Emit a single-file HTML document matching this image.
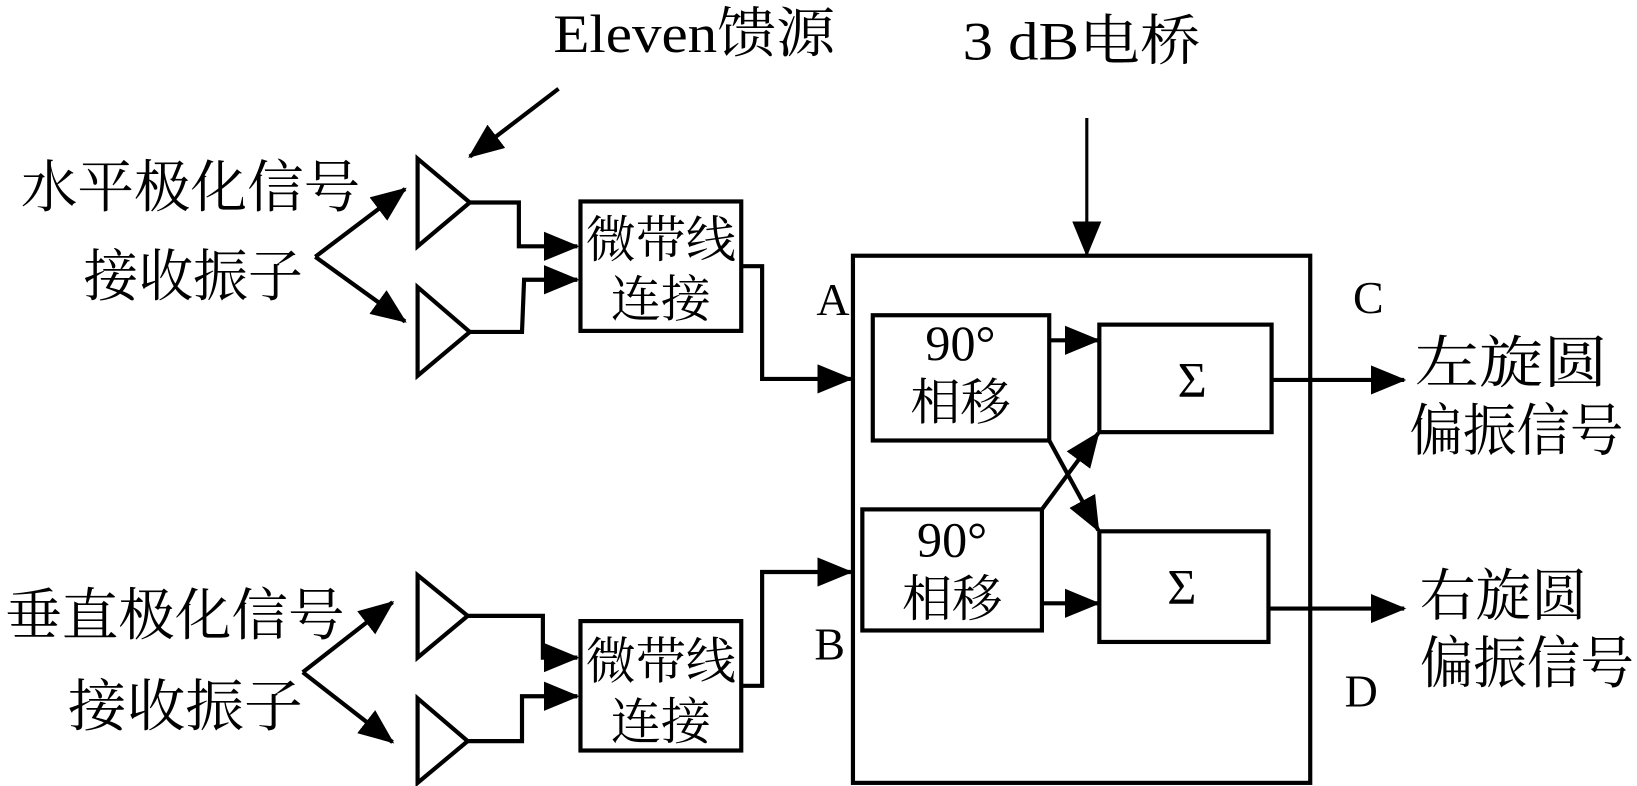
<!DOCTYPE html>
<html><head><meta charset="utf-8"><style>
html,body{margin:0;padding:0;background:#fff;}
svg{display:block;}
text{font-family:"Liberation Serif","Noto Serif CJK SC",serif;fill:#000;}
</style></head><body>
<svg width="1637" height="786" viewBox="0 0 1568 753" preserveAspectRatio="none" xmlns="http://www.w3.org/2000/svg">
<defs>
<marker id="a" markerUnits="userSpaceOnUse" markerWidth="34" markerHeight="28" refX="32" refY="14" orient="auto">
<path d="M0,0 L34,14 L0,28 Z" fill="#000"/>
</marker>
</defs>
<g fill="none" stroke="#000" stroke-width="4">
<line x1="535" y1="85" x2="450" y2="150" marker-end="url(#a)"/>
<line x1="1041" y1="113" x2="1041" y2="244" stroke-width="3" marker-end="url(#a)"/>
<line x1="302" y1="246" x2="388" y2="181" marker-end="url(#a)"/>
<line x1="302" y1="246" x2="388" y2="308" marker-end="url(#a)"/>
<polygon points="400,152 450,194 400,236"/>
<polygon points="400,275 450,318 400,360"/>
<polyline points="450,194 497,194 497,236 553,236" marker-end="url(#a)"/>
<polyline points="450,318 500,318 502,268 553,268" marker-end="url(#a)"/>
<rect x="556" y="193" width="154" height="124"/>
<polyline points="710,255 730,255 730,363 815,363" marker-end="url(#a)"/>
<line x1="290" y1="644" x2="376" y2="577" marker-end="url(#a)"/>
<line x1="290" y1="644" x2="376" y2="711" marker-end="url(#a)"/>
<polygon points="400,551 448,590 400,630"/>
<polygon points="400,669 448,710 400,750"/>
<polyline points="448,590 520,590 520,630 553,630" marker-end="url(#a)"/>
<polyline points="448,710 500,710 500,667 553,667" marker-end="url(#a)"/>
<rect x="556" y="595" width="154" height="124"/>
<polyline points="710,657 730,657 730,548 815,548" marker-end="url(#a)"/>
<rect x="817" y="245" width="438" height="505"/>
<rect x="836" y="302" width="169" height="120"/>
<rect x="826" y="488" width="172" height="116"/>
<rect x="1053" y="311" width="165" height="103"/>
<rect x="1053" y="509" width="162" height="106"/>
<line x1="1005" y1="326" x2="1052" y2="326" marker-end="url(#a)"/>
<line x1="998" y1="578" x2="1052" y2="578" marker-end="url(#a)"/>
<line x1="1005" y1="422" x2="1052" y2="508" marker-end="url(#a)"/>
<line x1="998" y1="488" x2="1052" y2="415" marker-end="url(#a)"/>
<line x1="1218" y1="364" x2="1345" y2="364" marker-end="url(#a)"/>
<line x1="1215" y1="583" x2="1345" y2="583" marker-end="url(#a)"/>
</g>
<g font-size="52">
<text x="530" y="50" textLength="270" lengthAdjust="spacingAndGlyphs">Eleven馈源</text>
<text x="922" y="57" textLength="228" lengthAdjust="spacingAndGlyphs">3 dB电桥</text>
</g>
<g font-size="54" lengthAdjust="spacingAndGlyphs">
<text x="20" y="198" textLength="325" lengthAdjust="spacingAndGlyphs">水平极化信号</text>
<text x="80" y="283" textLength="210" lengthAdjust="spacingAndGlyphs">接收振子</text>
<text x="5" y="608" textLength="325" lengthAdjust="spacingAndGlyphs">垂直极化信号</text>
<text x="65" y="695" textLength="225" lengthAdjust="spacingAndGlyphs">接收振子</text>
<text x="1355" y="366" textLength="185" lengthAdjust="spacingAndGlyphs">左旋圆</text>
<text x="1350" y="431" textLength="205" lengthAdjust="spacingAndGlyphs">偏振信号</text>
<text x="1360" y="589" textLength="160" lengthAdjust="spacingAndGlyphs">右旋圆</text>
<text x="1360" y="654" textLength="205" lengthAdjust="spacingAndGlyphs">偏振信号</text>
</g>
<g font-size="48" text-anchor="middle">
<text x="633" y="246">微带线</text>
<text x="633" y="303">连接</text>
<text x="633" y="650">微带线</text>
<text x="633" y="708">连接</text>
<text x="920" y="345">90°</text>
<text x="920" y="402">相移</text>
<text x="912" y="533">90°</text>
<text x="912" y="590">相移</text>
<text x="1142" y="380">Σ</text>
<text x="1132" y="578">Σ</text>
</g>
<g font-size="44">
<text x="782" y="302">A</text>
<text x="780" y="632">B</text>
<text x="1296" y="300">C</text>
<text x="1288" y="677">D</text>
</g>
</svg>
</body></html>
